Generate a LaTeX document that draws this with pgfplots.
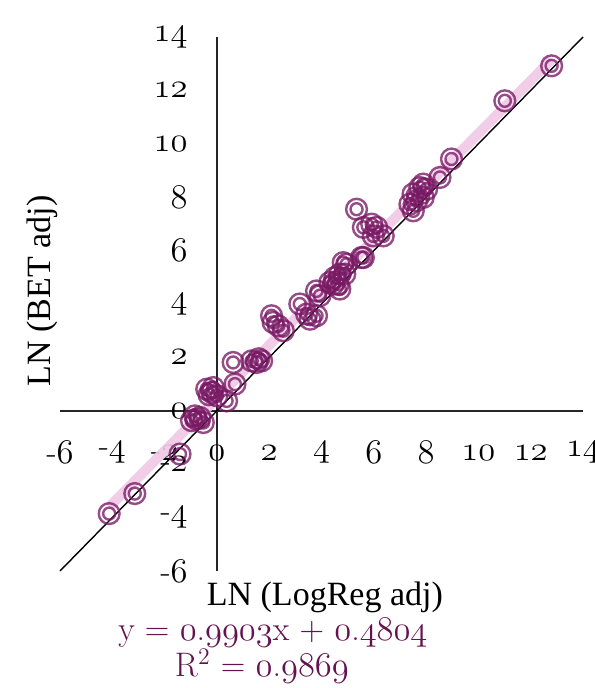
\documentclass[border=0pt]{standalone}
\usepackage{fontspec}
\usepackage{pgfplots}
\pgfplotsset{compat=1.18}
\newfontfamily\tnr{Liberation Serif}
% old-style figures from the math italic font
\newcommand\osn[1]{{\usefont{OML}{cmm}{m}{it}#1}}
\definecolor{mk}{RGB}{120,25,100}
\definecolor{trend}{RGB}{240,200,230}
\definecolor{eqc}{RGB}{100,18,80}
\pgfdeclareplotmark{dcirc}{%
  \pgfpathcircle{\pgfpointorigin}{5.2pt}\pgfusepathqstroke
  \pgfpathcircle{\pgfpointorigin}{3pt}\pgfusepathqstroke}

\begin{document}
\begin{tikzpicture}
  \begin{axis}[
    scale only axis, width=261.5pt, height=267pt,
    axis lines=middle, axis line style={-, line width=1pt, black!85},
    xmin=-6, xmax=14, ymin=-6, ymax=14,
    clip=false,
    major tick length=0pt,
    hide obscured x ticks=false, hide obscured y ticks=false,
    xtick={-6,-4,...,14}, ytick={-6,-4,...,14},
    xticklabels={{-\osn{6}},{-\osn{4}},{-\osn{2}},\osn{0},\osn{2},\osn{4},\osn{6},\osn{8},\osn{10},\osn{12},\osn{14}},
    yticklabels={{-\osn{6}},{-\osn{4}},{-\osn{2}},\osn{0},\osn{2},\osn{4},\osn{6},\osn{8},\osn{10},\osn{12},\osn{14}},
    xticklabel style={anchor=center, yshift=-21pt, inner sep=0pt, font=\fontsize{16.5}{18}\selectfont},
    yticklabel style={anchor=east, xshift=-14.5pt, inner sep=0pt, font=\fontsize{16.5}{18}\selectfont},
  ]
    \coordinate (bl) at (rel axis cs:0,0);
    \coordinate (tr) at (rel axis cs:1,1);
    % linear trendline
    \addplot[trend, line width=5pt, opacity=0.9] coordinates {(-4.12,-3.6) (12.8,13.156)};
    % y = x reference line
    \addplot[black, line width=0.7pt] coordinates {(-6,-6) (14,14)};
    \addplot[only marks, mark=dcirc, mark options={draw=mk, line width=1.2pt, draw opacity=0.78}] coordinates {
      (-4.12,-3.85) (-3.14,-3.10) (-1.41,-1.62)
      (-0.97,-0.37) (-0.84,-0.19) (-0.78,-0.31) (-0.52,-0.44) (-0.65,-0.25)
      (-0.39,0.81) (-0.20,0.69) (-0.14,0.87) (0.00,0.56) (-0.30,0.60) (0.37,0.37)
      (0.62,1.81) (0.69,1.00) (1.33,1.87) (1.52,1.81) (1.71,1.87) (1.60,1.95)
      (2.09,3.56) (2.15,3.31) (2.35,3.18) (2.54,3.00)
      (3.17,4.00) (3.43,3.62) (3.56,3.43) (3.81,3.56) (3.81,4.49) (3.94,4.31)
      (4.32,4.81) (4.45,4.74) (4.51,4.99) (4.64,4.74) (4.70,4.56) (4.70,5.12)
      (4.83,5.55) (4.89,5.12) (4.96,5.49) (5.53,5.74) (5.60,5.74)
      (5.34,7.55) (5.60,6.87) (5.92,6.99) (6.11,6.87) (5.98,6.55) (6.36,6.55)
      (7.38,7.74) (7.51,7.49) (7.64,7.87) (7.89,7.99) (7.50,8.12) (7.76,8.36)
      (7.89,8.49) (8.02,8.30) (8.53,8.74) (8.97,9.43) (11.01,11.61) (12.80,12.92)
    };
    \node[font=\tnr\fontsize{17}{19}\selectfont, rotate=90] at (axis cs:-6.69,4.49) {LN (BET adj)};
    \node[font=\tnr\fontsize{17}{19}\selectfont] at (axis cs:4.13,-7.0) {LN (LogReg adj)};
    \node[text=eqc, font=\fontsize{17}{19}\selectfont] at (axis cs:2.14,-8.31)
      {y = \osn{0}.\osn{9903}x + \osn{0}.\osn{4804}};
    \node[text=eqc, font=\fontsize{17}{19}\selectfont] at (axis cs:1.72,-9.55)
      {R\textsuperscript{2} = \osn{0}.\osn{9869}};
  \end{axis}
  \pgfresetboundingbox
  \useasboundingbox ([xshift=-30pt,yshift=-58.5pt]bl) rectangle ([xshift=5.5pt,yshift=18.5pt]tr);
\end{tikzpicture}
\end{document}
